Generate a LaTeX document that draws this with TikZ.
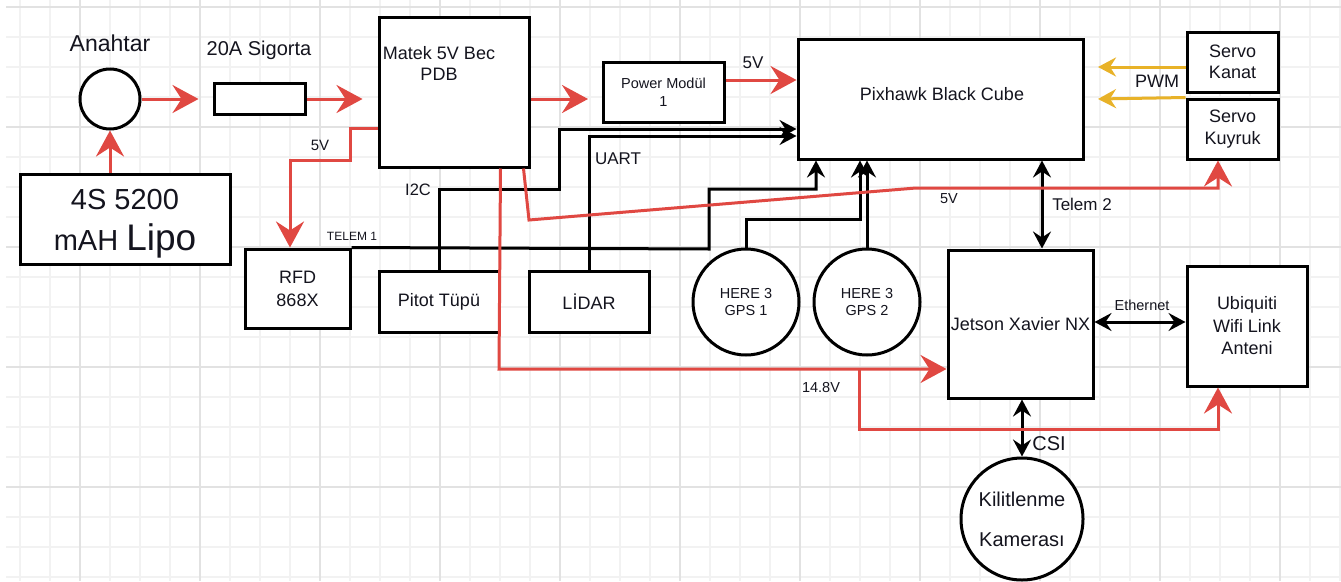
\documentclass[tikz,border=0pt]{standalone}
\usepackage{fontspec}
\setmainfont{Liberation Sans}
\usetikzlibrary{arrows.meta,calc}
\definecolor{wred}{RGB}{224,72,66}
\definecolor{wyel}{RGB}{232,178,40}
\definecolor{gminor}{RGB}{242,242,242}
\definecolor{gmajor}{RGB}{226,226,226}
\definecolor{ink}{RGB}{20,20,30}
\tikzset{
  box/.style={draw=black, line width=3pt, fill=white, inner sep=0pt, align=center, text=ink},
  circ/.style={box, circle},
  lbl/.style={inner sep=0pt, text=ink, align=center},
  fs/.style n args={2}{font=\fontsize{#1}{#2}\selectfont},
  redarr/.style={draw=wred, line width=3pt, -{Stealth[length=26pt,width=28pt,inset=9pt]}},
  blkarr/.style={draw=black, line width=3pt, -{Stealth[length=17pt,width=18pt,inset=6pt]}},
  dblarr/.style={draw=black, line width=3pt, {Stealth[length=17pt,width=18pt,inset=6pt]}-{Stealth[length=17pt,width=18pt,inset=6pt]}},
  yelarr/.style={draw=wyel, line width=3pt, -{Stealth[length=18pt,width=19pt,inset=6pt]}},
  gridminor/.style={draw=gminor, line width=1.5pt},
  gridmajor/.style={draw=gmajor, line width=1.2pt},
}
\begin{document}
\begin{tikzpicture}[x=1pt,y=-1pt]
\useasboundingbox (0,0) rectangle (1341,581);
\fill[white] (0,0) rectangle (1341,581);
% grid
\foreach \x in {20,50,...,1340} \draw[gridminor] (\x,0) -- (\x,581);
\foreach \y in {7,37,...,577} \draw[gridminor] (6,\y) -- (1341,\y);
\foreach \x in {80,200,...,1280} \draw[gridmajor] (\x,0) -- (\x,581);
\foreach \y in {7,127,...,487} \draw[gridmajor] (6,\y) -- (1341,\y);

% nodes
\node[circ, minimum size=60pt] (sw) at (110,99) {};
\node[lbl, fs={23}{28}] (swl) at (110,43) {Anahtar};
\node[box, minimum width=210pt, minimum height=90pt] (lipo) at (125,219) {};
\node[lbl, fs={29}{41}] (lipol) at (125,224) {4S 5200\\mAH {\fontsize{37}{41}\selectfont Lipo}};
\node[box, minimum width=91pt, minimum height=31pt] (fuse) at (259.5,99) {};
\node[lbl, fs={20}{24}] (fusel) at (259,50) {20A Sigorta};
\node[box, minimum width=150pt, minimum height=150pt] (pdb) at (454,92) {};
\node[lbl, fs={18}{21}] (pdbl) at (439,63) {Matek 5V Bec\\PDB};
\node[box, minimum width=121pt, minimum height=60pt, fs={14.5}{18}] (pm) at (663.5,92) {Power Modül\\1};
\node[box, minimum width=285pt, minimum height=120pt] (px) at (940.5,99) {};
\node[lbl, fs={18}{21}] (pxl) at (942,94) {Pixhawk Black Cube};
\node[box, minimum width=91pt, minimum height=60pt, fs={18}{21}] (sk) at (1232.5,62) {Servo\\Kanat};
\node[box, minimum width=91pt, minimum height=60pt, fs={18}{22}] (sq) at (1232.5,129) {Servo\\Kuyruk};
\node[box, minimum width=105pt, minimum height=79pt, fs={18}{23}] (rfd) at (297.5,288.5) {RFD\\868X};
\node[box, minimum width=120pt, minimum height=61pt, fs={18}{21}] (pitot) at (439,301.5) {Pitot Tüpü};
\node[box, minimum width=120pt, minimum height=61pt, fs={18}{21}] (lidar) at (589,301.5) {LİDAR};
\node[circ, minimum size=106pt, fs={14.5}{17.5}] (gps1) at (746,302) {HERE 3\\GPS 1};
\node[circ, minimum size=106pt, fs={14.5}{17.5}] (gps2) at (867,302) {HERE 3\\GPS 2};
\node[box, minimum width=145pt, minimum height=148pt, fs={18}{21}] (jet) at (1020.5,324) {Jetson Xavier NX};
\node[box, minimum width=120pt, minimum height=120pt, fs={18}{22.5}] (ubi) at (1247,326) {Ubiquiti\\Wifi Link\\Anteni};
\node[circ, minimum size=122pt, fs={20}{40}] (cam) at (1022,519) {Kilitlenme\\Kamerası};

% black connectors
\draw[blkarr] (pitot.north) -- (439,189) -- (559,189) -- (559,129) -- (px.west |- 0,129);
\draw[blkarr] (lidar.north) -- (589,136) -- (px.west |- 0,136);
\draw[blkarr] (rfd.north east) -- (709,249) -- (709,189) -- (816,189) -- (px.south -| 816,0);
\draw[blkarr] (gps1.north) -- (746,219) -- (860,219) -- (px.south -| 860,0);
\draw[blkarr] (gps2.north) -- (px.south -| gps2.north);
\draw[dblarr] (px.south -| 1042,0) -- (jet.north -| 1042,0);
\draw[dblarr] (jet.east |- 0,322) -- (ubi.west |- 0,322);
\draw[dblarr] (jet.south -| cam.north) -- (cam.north);

% red connectors
\draw[redarr] (lipo.north -| sw.south) -- (sw.south);
\draw[redarr] (sw.east) -- ($(fuse.west)+(-14,0)$);
\draw[redarr] (fuse.east) -- ($(fuse.east -| pdb.west)+(-15,0)$);
\coordinate (pmin) at (588,99);
\draw[redarr] (pdb.east |- pmin) -- (pmin);
\draw[redarr] ([yshift=12pt]pm.east) coordinate (pmout) -- (pmout -| px.west);
\draw[redarr] (pdb.west |- 0,128) -- (350,128) -- (350,160) -- (290,160) -- (rfd.north -| 290,0);
\draw[redarr] ([xshift=-30pt]pdb.south east) -- (499,369) -- (jet.west |- 0,369);
\draw[redarr] (859,369) -- (859,429) -- (1218,429) -- (ubi.south -| 1218,0);
\draw[redarr] ([xshift=-7pt]pdb.south east) -- (529,220) -- (916,188) -- (1218,188) -- (sq.south -| 1218,0);

% yellow PWM
\draw[yelarr] (sk.west |- 0,67) -- (1098,67);
\draw[yelarr] (sq.north west) -- (1098,99);

% labels
\node[lbl, fs={15}{18}] (l5a) at (320,145) {5V};
\node[lbl, fs={12}{14}] (ltel1) at (352,236) {TELEM 1};
\node[lbl, fs={16.5}{20}] (li2c) at (418,190) {I2C};
\node[lbl, fs={17}{20}] (luart) at (618,159) {UART};
\node[lbl, fs={17}{20}] (l5b) at (753,63) {5V};
\node[lbl, fs={14.5}{17}] (l5c) at (949,199) {5V};
\node[lbl, fs={17}{20}] (ltel2) at (1082,204) {Telem 2};
\node[lbl, fs={18}{21}] (lpwm) at (1157,81) {PWM};
\node[lbl, fs={14.5}{17}] (leth) at (1142,305) {Ethernet};
\node[lbl, fs={14.5}{17}] (l148) at (821,388) {14.8V};
\node[lbl, fs={20}{24}] (lcsi) at (1049,444) {CSI};
\end{tikzpicture}
\end{document}
